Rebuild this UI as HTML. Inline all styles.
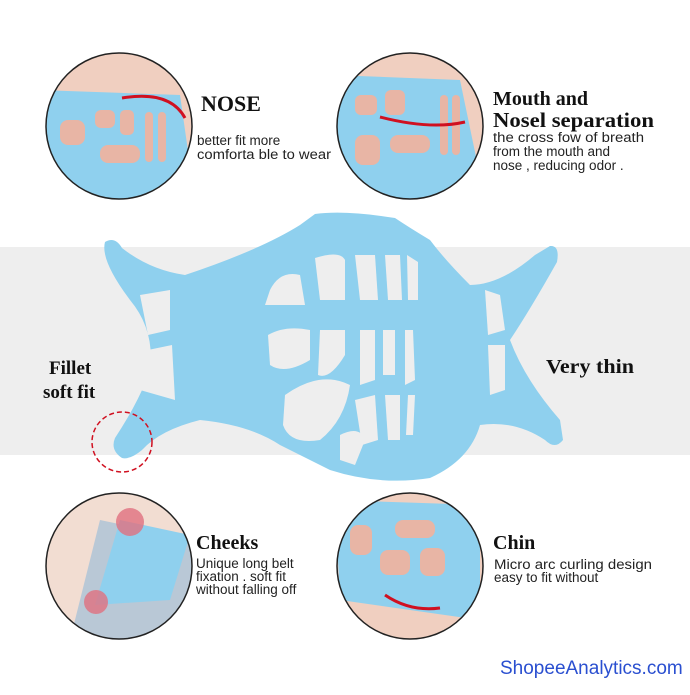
<!DOCTYPE html>
<html><head><style>
body{margin:0;width:690px;height:690px;background:#fff;overflow:hidden;font-family:"Liberation Sans",sans-serif}
</style></head><body>
<svg width="690" height="690" viewBox="0 0 690 690" xmlns="http://www.w3.org/2000/svg">
<rect x="0" y="247" width="690" height="208" fill="#eeeeee"/>
<defs>
<clipPath id="c1"><circle cx="119" cy="126" r="73"/></clipPath>
<clipPath id="c2"><circle cx="410" cy="126" r="73"/></clipPath>
<clipPath id="c3"><circle cx="119" cy="566" r="73"/></clipPath>
<clipPath id="c4"><circle cx="410" cy="566" r="73"/></clipPath>
</defs>
<g clip-path="url(#c1)">
<rect x="40" y="50" width="160" height="160" fill="#f0cfc0"/>
<path d="M40 90 L180 95 L195 200 L40 200 Z" fill="#8fd0ee"/>
<g fill="#e8b5a5"><rect x="95" y="110" width="20" height="18" rx="6"/><rect x="120" y="110" width="14" height="25" rx="5"/><rect x="100" y="145" width="40" height="18" rx="8"/><rect x="60" y="120" width="25" height="25" rx="8"/><rect x="145" y="112" width="8" height="50" rx="4"/><rect x="158" y="112" width="8" height="50" rx="4"/></g>
<path d="M122 98 Q170 90 185 118" stroke="#d01020" stroke-width="3" fill="none"/>
</g>
<circle cx="119" cy="126" r="73" fill="none" stroke="#222" stroke-width="1.5"/>
<g clip-path="url(#c2)">
<rect x="330" y="50" width="160" height="160" fill="#f0cfc0"/>
<path d="M335 75 L460 80 L485 200 L335 200 Z" fill="#8fd0ee"/>
<g fill="#e8b5a5"><rect x="355" y="95" width="22" height="20" rx="6"/><rect x="385" y="90" width="20" height="25" rx="6"/><rect x="390" y="135" width="40" height="18" rx="8"/><rect x="355" y="135" width="25" height="30" rx="8"/><rect x="440" y="95" width="8" height="60" rx="4"/><rect x="452" y="95" width="8" height="60" rx="4"/></g>
<path d="M380 117 Q430 130 465 122" stroke="#d01020" stroke-width="3" fill="none"/>
</g>
<circle cx="410" cy="126" r="73" fill="none" stroke="#222" stroke-width="1.5"/>
<g clip-path="url(#c3)">
<rect x="40" y="490" width="160" height="160" fill="#f2ddd2"/>
<path d="M100 520 L195 540 L195 640 L70 640 Z" fill="#b9c8d6"/>
<path d="M120 520 L190 535 L170 600 L95 605 Z" fill="#8fd0ee"/>
<circle cx="130" cy="522" r="14" fill="#e07080" opacity="0.8"/>
<circle cx="96" cy="602" r="12" fill="#e07080" opacity="0.8"/>
</g>
<circle cx="119" cy="566" r="73" fill="none" stroke="#222" stroke-width="1.5"/>
<g clip-path="url(#c4)">
<rect x="330" y="490" width="160" height="160" fill="#f0cfc0"/>
<path d="M335 500 L480 505 L480 620 L340 600 Z" fill="#8fd0ee"/>
<g fill="#e8b5a5"><rect x="395" y="520" width="40" height="18" rx="8"/><rect x="380" y="550" width="30" height="25" rx="8"/><rect x="420" y="548" width="25" height="28" rx="8"/><rect x="350" y="525" width="22" height="30" rx="8"/></g>
<path d="M385 595 Q410 612 440 608" stroke="#d01020" stroke-width="3" fill="none"/>
</g>
<circle cx="410" cy="566" r="73" fill="none" stroke="#222" stroke-width="1.5"/>
<g fill="#8fd0ee">
<path d="M105 242 Q115 236 122 248 Q150 270 185 275 Q260 250 300 225 L315 214 Q345 210 395 218 Q410 228 430 240 Q445 260 470 285 Q500 285 535 255 L550 246 Q560 245 557 262 Q530 310 510 340 Q525 380 560 420 L563 440 Q555 450 545 440 Q515 420 480 425 Q470 460 430 478 Q380 486 330 470 Q300 455 280 445 Q250 425 200 420 Q160 430 142 450 Q130 460 122 458 Q110 450 115 438 Q140 400 150 370 Q155 330 130 300 Q100 260 105 242 Z"/>
</g>
<g fill="#eeeeee">
<path d="M140 295 L170 290 L170 330 L148 335 Z"/>
<path d="M148 350 L172 345 L175 400 L140 390 Z"/>
<path d="M485 290 L500 295 L505 330 L488 335 Z"/>
<path d="M488 345 L505 345 L505 390 L490 395 Z"/>
<path d="M270 290 Q280 270 300 275 L305 305 L265 305 Z"/>
<path d="M315 258 Q340 250 345 260 L345 300 L320 300 Z"/>
<path d="M355 255 L375 255 L378 300 L360 300 Z"/>
<path d="M385 255 L400 255 L402 300 L388 300 Z"/>
<path d="M407 255 L418 262 L418 300 L408 300 Z"/>
<path d="M268 335 Q285 325 310 330 L310 360 Q285 375 270 365 Z"/>
<path d="M320 330 L345 330 L345 355 Q330 380 318 375 Z"/>
<path d="M360 330 L375 330 L375 380 L360 385 Z"/>
<path d="M383 330 L395 330 L395 375 L383 375 Z"/>
<path d="M405 330 L413 330 L415 380 L405 385 Z"/>
<path d="M285 395 Q320 370 350 385 Q345 420 320 440 Q290 445 283 425 Z"/>
<path d="M355 400 L375 395 L378 440 L362 445 Z"/>
<path d="M385 395 L400 395 L400 440 L388 440 Z"/>
<path d="M408 395 L415 395 L413 435 L406 435 Z"/>
<path d="M340 435 Q360 425 365 440 L355 465 L340 460 Z"/>
</g>
<circle cx="122" cy="442" r="30" fill="none" stroke="#d01020" stroke-width="1.5" stroke-dasharray="5,3"/>
<g font-family="Liberation Serif,serif" font-weight="bold" fill="#111">
<text x="201" y="111" font-size="22">NOSE</text>
<text x="493" y="105" font-size="20">Mouth and</text>
<text x="493" y="127" font-size="21" textLength="161" lengthAdjust="spacingAndGlyphs">Nosel separation</text>
<text x="49" y="374" font-size="19">Fillet</text>
<text x="43" y="398" font-size="19">soft fit</text>
<text x="546" y="373" font-size="20" textLength="88" lengthAdjust="spacingAndGlyphs">Very thin</text>
<text x="196" y="549" font-size="20">Cheeks</text>
<text x="493" y="549" font-size="20">Chin</text>
</g>
<g font-size="13.5" fill="#222">
<text x="197" y="145">better fit more</text>
<text x="197" y="159" textLength="134" lengthAdjust="spacingAndGlyphs">comforta ble to wear</text>
<text x="493" y="142" textLength="151" lengthAdjust="spacingAndGlyphs">the cross fow of breath</text>
<text x="493" y="156">from the mouth and</text>
<text x="493" y="170">nose , reducing odor .</text>
<text x="196" y="568">Unique long belt</text>
<text x="196" y="581">fixation . soft fit</text>
<text x="196" y="594">without falling off</text>
<text x="494" y="569" textLength="158" lengthAdjust="spacingAndGlyphs">Micro arc curling design</text>
<text x="494" y="582">easy to fit without</text>
</g>
<text x="500" y="674" font-size="19" fill="#2a4fd0">ShopeeAnalytics.com</text>
</svg>
</body></html>
